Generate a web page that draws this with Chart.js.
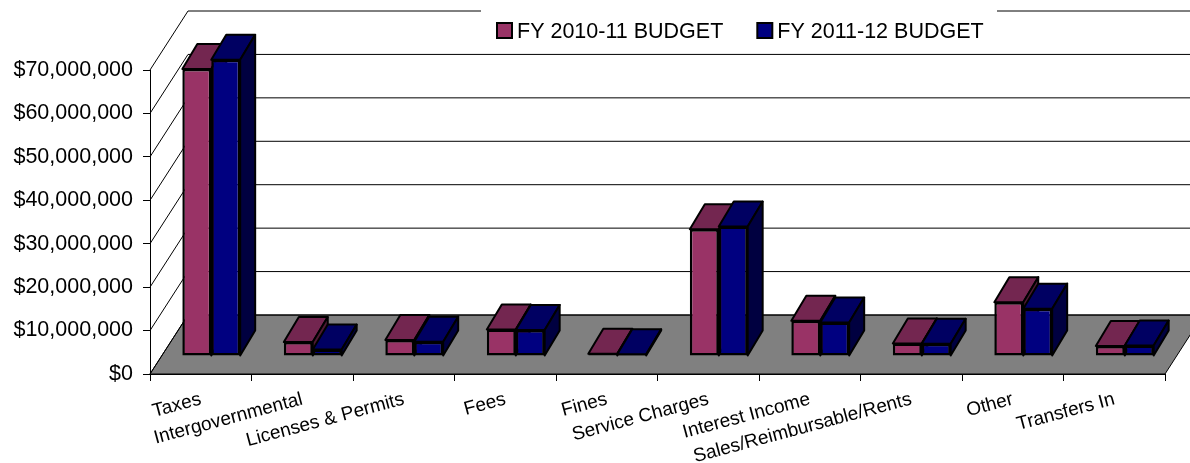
<!DOCTYPE html>
<html>
<head>
<meta charset="utf-8">
<script src="https://cdn.jsdelivr.net/npm/chart.js@4.4.1/dist/chart.umd.min.js"></script>
<style>
	html, body { margin: 0; padding: 0; background: #fff; }
	.canvas-container { width: 1190px; height: 463px; }
</style>
</head>
<body>
<div class="canvas-container">
	<canvas id="chart" width="1190" height="463"></canvas>
</div>
<script>
var categories = [
	"Taxes", "Intergovernmental", "Licenses & Permits", "Fees", "Fines",
	"Service Charges", "Interest Income", "Sales/Reimbursable/Rents", "Other", "Transfers In",
];
var seriesNames = ["FY 2010-11 BUDGET", "FY 2011-12 BUDGET"];
var budget1011 = [66100000, 3200000, 3700000, 6100000, 500000, 29200000, 8100000, 2900000, 12400000, 2300000];
var budget1112 = [68200000, 1500000, 3300000, 6000000, 400000, 29800000, 7700000, 2800000, 10900000, 2400000];
var yTicks = [0, 10000000, 20000000, 30000000, 40000000, 50000000, 60000000, 70000000];
var yTickLabels = ["$0", "$10,000,000", "$20,000,000", "$30,000,000", "$40,000,000",
	"$50,000,000", "$60,000,000", "$70,000,000"];

const FONT = "'Liberation Sans', Arial, sans-serif";

// oblique offsets: full floor depth, bar front plane, bar thickness
const WALL_X = 38, WALL_Y = -59;
const BAR_X = 10.5, BAR_Y = -18;
const BOX_X = 15, BOX_Y = -25;

const fronts = ["#993366", "#000080"];
const tops = ["#732650", "#000062"];
const sides = ["#4d1a33", "#000040"];

function face(ctx, pts, fill) {
	ctx.beginPath();
	ctx.moveTo(pts[0][0], pts[0][1]);
	for (let i = 1; i < pts.length; i++) ctx.lineTo(pts[i][0], pts[i][1]);
	ctx.closePath();
	ctx.fillStyle = fill;
	ctx.fill();
	ctx.stroke();
}

const box3d = {
	id: "box3d",
	beforeDraw(chart) {
		const ctx = chart.ctx;
		const a = chart.chartArea;
		const ys = chart.scales.y;
		const y0 = ys.getPixelForValue(0);
		ctx.save();
		// floor
		ctx.lineWidth = 1;
		ctx.strokeStyle = "#000";
		face(ctx, [[a.left, y0], [a.right, y0], [a.right + WALL_X, y0 + WALL_Y], [a.left + WALL_X, y0 + WALL_Y]], "#808080");
		// side wall + back wall gridlines
		ys.ticks.forEach((t) => {
			const py = ys.getPixelForValue(t.value);
			ctx.beginPath();
			ctx.moveTo(a.left, py);
			ctx.lineTo(a.left + WALL_X, py + WALL_Y);
			ctx.lineTo(chart.width, py + WALL_Y);
			ctx.stroke();
		});
		ctx.restore();
	},
	beforeDatasetsDraw(chart) {
		const ctx = chart.ctx;
		const metas = chart.getSortedVisibleDatasetMetas();
		ctx.save();
		ctx.translate(BAR_X, BAR_Y);
		ctx.lineWidth = 2;
		ctx.lineJoin = "round";
		ctx.strokeStyle = "#000";
		categories.forEach((c, i) => {
			metas.forEach((meta) => {
				const p = meta.data[i].getProps(["x", "y", "base", "width"], true);
				const l = p.x - p.width / 2, r = p.x + p.width / 2;
				const top = Math.min(p.y, p.base), bottom = Math.max(p.y, p.base);
				const k = meta.index;
				face(ctx, [[l, top], [r, top], [r + BOX_X, top + BOX_Y], [l + BOX_X, top + BOX_Y]], tops[k]);
				face(ctx, [[r, top], [r + BOX_X, top + BOX_Y], [r + BOX_X, bottom + BOX_Y], [r, bottom]], sides[k]);
			});
		});
		ctx.restore();
		// front faces are drawn by the bar elements on the shifted plane
		ctx.save();
		ctx.translate(BAR_X, BAR_Y);
	},
	afterDatasetsDraw(chart) {
		chart.ctx.restore();
	},
	afterDraw(chart) {
		const ctx = chart.ctx;
		ctx.save();
		ctx.fillStyle = "#fff";
		ctx.fillRect(481, 0, 516, 46);
		ctx.font = "21.5px " + FONT;
		ctx.textBaseline = "alphabetic";
		let x = 497;
		chart.data.datasets.forEach((ds, k) => {
			ctx.fillStyle = fronts[k];
			ctx.fillRect(x, 23, 15, 15);
			ctx.lineWidth = 2;
			ctx.strokeStyle = "#000";
			ctx.strokeRect(x, 23, 15, 15);
			ctx.fillStyle = "#000";
			ctx.fillText(ds.label, x + 20, 38);
			x += 20 + ctx.measureText(ds.label).width + 34;
		});
		ctx.restore();
	},
};

new Chart(document.getElementById("chart").getContext("2d"), {
	type: "bar",
	data: {
		labels: categories,
		datasets: [
			{ label: seriesNames[0], data: budget1011, backgroundColor: fronts[0] },
			{ label: seriesNames[1], data: budget1112, backgroundColor: fronts[1] },
		],
	},
	options: {
		responsive: false,
		animation: false,
		devicePixelRatio: 1,
		layout: { padding: { top: 70, right: 25, left: 0, bottom: 0 } },
		datasets: {
			bar: {
				categoryPercentage: 0.57,
				barPercentage: 1,
				borderColor: "#000",
				borderWidth: 2.5,
				borderSkipped: false,
				clip: false,
			},
		},
		plugins: {
			legend: { display: false },
			tooltip: { enabled: false },
		},
		scales: {
			x: {
				offset: true,
				grid: { offset: true, drawOnChartArea: false, tickLength: 7, color: "#000" },
				border: { color: "#000" },
				ticks: {
					autoSkip: false,
					minRotation: 15,
					maxRotation: 15,
					padding: 7,
					color: "#000",
					font: { family: FONT, size: 19 },
				},
				afterFit(scale) { scale.height = 89; },
			},
			y: {
				min: 0,
				max: 70000000,
				afterBuildTicks(scale) { scale.ticks = yTicks.map((v) => ({ value: v })); },
				grid: { drawOnChartArea: false, tickLength: 7, color: "#000" },
				border: { color: "#000" },
				ticks: {
					padding: 10,
					color: "#000",
					font: { family: FONT, size: 21.5 },
					callback: (v, i) => yTickLabels[i],
				},
				afterFit(scale) { scale.width = 150; },
			},
		},
	},
	plugins: [box3d],
});
</script>
</body>
</html>
